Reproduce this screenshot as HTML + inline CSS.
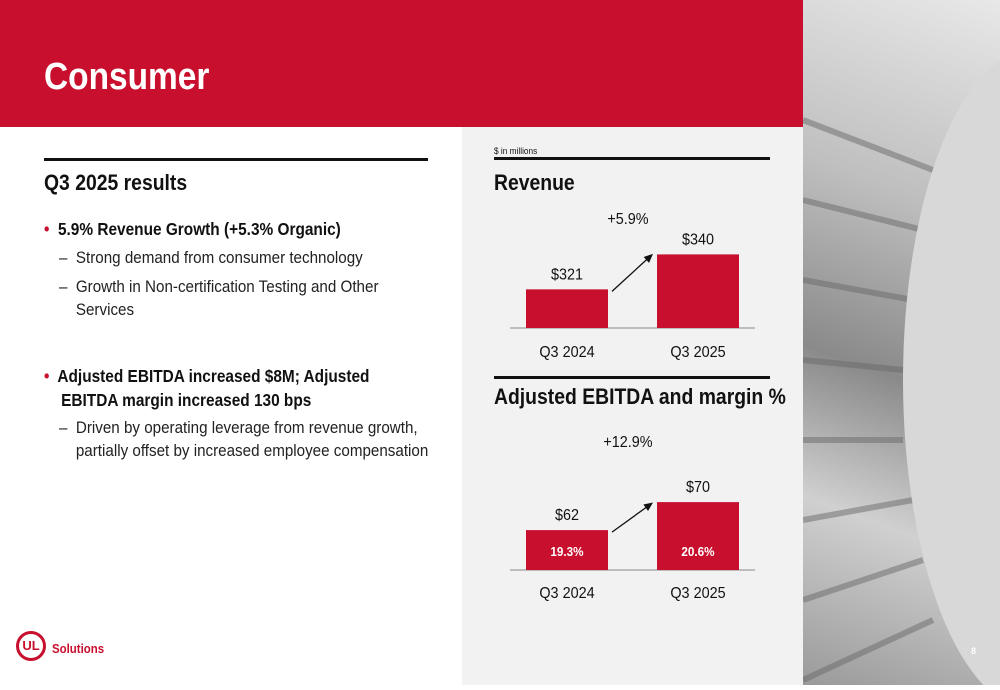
<!DOCTYPE html>
<html><head><meta charset="utf-8"><style>
body{margin:0;width:1000px;height:685px;position:relative;overflow:hidden;background:#fff;font-family:"Liberation Sans",Arial,sans-serif;}
.abs{position:absolute;}
.t{position:absolute;white-space:nowrap;transform-origin:0 0;}
.b{transform:scaleX(0.88);}
.r{transform:scaleX(0.92);}
</style></head><body>
<div class="abs" style="left:0;top:0;width:803px;height:127px;background:#c8102e"></div>
<div class="t b" style="left:44px;top:56px;font-size:38px;font-weight:bold;color:#fff">Consumer</div>
<div class="abs" style="left:803px;top:0;width:197px;height:685px;background:linear-gradient(200deg,#e8e8e8 0%,#bfbfbf 30%,#8a8a8a 55%,#d0d0d0 75%,#9a9a9a 100%)">
<svg width="197" height="685">
<g stroke="#6a6a6a" stroke-width="6" opacity="0.5">
<line x1="0" y1="120" x2="130" y2="170"/><line x1="0" y1="200" x2="120" y2="230"/><line x1="0" y1="280" x2="110" y2="300"/><line x1="0" y1="360" x2="100" y2="370"/><line x1="0" y1="440" x2="100" y2="440"/><line x1="0" y1="520" x2="110" y2="500"/><line x1="0" y1="600" x2="120" y2="560"/><line x1="0" y1="680" x2="130" y2="620"/></g>
<ellipse cx="230" cy="380" rx="130" ry="330" fill="#d8d8d8"/>
</svg>
<div class="t" style="left:168px;top:646px;font-size:9px;font-weight:bold;color:#fff">8</div>
</div>
<div class="abs" style="left:462px;top:127px;width:341px;height:558px;background:#f2f2f2"></div>

<div class="abs" style="left:44px;top:158px;width:384px;height:3px;background:#111"></div>
<div class="t b" style="left:44px;top:170px;font-size:22px;font-weight:bold;color:#111">Q3 2025 results</div>
<div class="t b" style="left:44px;top:219px;font-size:17.5px;font-weight:bold;color:#111"><span style="color:#c8102e">•</span>&nbsp; 5.9% Revenue Growth (+5.3% Organic)</div>
<div class="t r" style="left:59px;top:249px;font-size:16.5px;color:#222">–&nbsp; Strong demand from consumer technology</div>
<div class="t r" style="left:59px;top:276px;font-size:16.5px;color:#222;line-height:23px">–&nbsp; Growth in Non-certification Testing and Other<br>&nbsp;&nbsp;&nbsp;&nbsp;Services</div>
<div class="t b" style="left:44px;top:364px;font-size:17.5px;font-weight:bold;color:#111;line-height:24px"><span style="color:#c8102e">•</span>&nbsp; Adjusted EBITDA increased $8M; Adjusted<br>&nbsp;&nbsp;&nbsp;&nbsp;EBITDA margin increased 130 bps</div>
<div class="t r" style="left:59px;top:417px;font-size:16.5px;color:#222;line-height:23px">–&nbsp; Driven by operating leverage from revenue growth,<br>&nbsp;&nbsp;&nbsp;&nbsp;partially offset by increased employee compensation</div>

<div class="t r" style="left:494px;top:146px;font-size:9px;color:#111">$ in millions</div>
<div class="abs" style="left:494px;top:157px;width:276px;height:3px;background:#111"></div>
<div class="t b" style="left:494px;top:170px;font-size:22px;font-weight:bold;color:#111">Revenue</div>
<div class="abs" style="left:494px;top:376px;width:276px;height:3px;background:#111"></div>
<div class="t b" style="left:494px;top:384px;font-size:22px;font-weight:bold;color:#111">Adjusted EBITDA and margin %</div>

<svg id="charts" class="abs" style="left:0;top:0" width="1000" height="685"></svg>

<div class="abs" style="left:16px;top:631px;width:30px;height:30px;border:3px solid #c8102e;border-radius:50%;box-sizing:border-box;color:#c8102e;font-weight:bold;font-size:13px;text-align:center;line-height:24px">UL</div>
<div class="t b" style="left:52px;top:641px;font-size:13px;font-weight:bold;color:#c8102e">Solutions</div>

<script>
const categories = ["Q3 2024","Q3 2025"];
const revenueValues = [321,340];
const revenueGrowth = "+5.9%";
const ebitdaValues = [62,70];
const marginLabels = ["19.3%","20.6%"];
const ebitdaGrowth = "+12.9%";

const NS="http://www.w3.org/2000/svg";
const svg=document.getElementById('charts');
function mk(tag,attrs,txt){const e=document.createElementNS(NS,tag);for(const k in attrs)e.setAttribute(k,attrs[k]);if(txt!=null)e.textContent=txt;svg.appendChild(e);return e;}
function fit(t){const w=t.getComputedTextLength();t.setAttribute('textLength',(w*0.9).toFixed(1));t.setAttribute('lengthAdjust','spacingAndGlyphs');}

function drawChart(prefix,vals,base,pxPer,baseline,growth,growthY,margins,catY){
  const xs=[526,657], w=82;
  const y=v=>baseline-(v-base)*pxPer;
  let l=mk('line',{x1:510,x2:755,y1:baseline,y2:baseline,stroke:'#888','stroke-width':1});
  
  
  vals.forEach((v,i)=>{
    const r=mk('rect',{x:xs[i],y:y(v),width:w,height:baseline-y(v),fill:'#c8102e'});
    
    
    const t=mk('text',{x:xs[i]+w/2,y:y(v)-10,'text-anchor':'middle','font-size':16,fill:'#111','font-family':'Liberation Sans'},'$'+v);
    
    
    fit(t);
    const c=mk('text',{x:xs[i]+w/2,y:catY,'text-anchor':'middle','font-size':16,fill:'#111','font-family':'Liberation Sans'},categories[i]);
    
    
    fit(c);
    if(margins){
      const m=mk('text',{x:xs[i]+w/2,y:baseline-14,'text-anchor':'middle','font-size':13,'font-weight':'bold',fill:'#fff','font-family':'Liberation Sans'},margins[i]);
      
      
      fit(m);
    }
  });
  const y0=y(vals[0])+2, y1=y(vals[1])+4;
  const a=mk('line',{x1:612,y1:y0,x2:648,y2:y1,stroke:'#111','stroke-width':1.3});
  
  
  const ang=Math.atan2(y1-y0,648-612);
  const hx=653,hy=y1+Math.tan(ang)*5;
  const p=mk('polygon',{points:`${hx},${hy} ${hx-9*Math.cos(ang)+4*Math.sin(ang)},${hy-9*Math.sin(ang)-4*Math.cos(ang)} ${hx-9*Math.cos(ang)-4*Math.sin(ang)},${hy-9*Math.sin(ang)+4*Math.cos(ang)}`,fill:'#111'});
  
  
  const g=mk('text',{x:628,y:growthY,'text-anchor':'middle','font-size':16,fill:'#111','font-family':'Liberation Sans'},growth);
  
  
  fit(g);
}
drawChart('revenue',revenueValues,300,1.84,328,revenueGrowth,224,null,357);
drawChart('ebitda',ebitdaValues,50.6,3.5,570,ebitdaGrowth,447,marginLabels,598);
</script>
</body></html>
